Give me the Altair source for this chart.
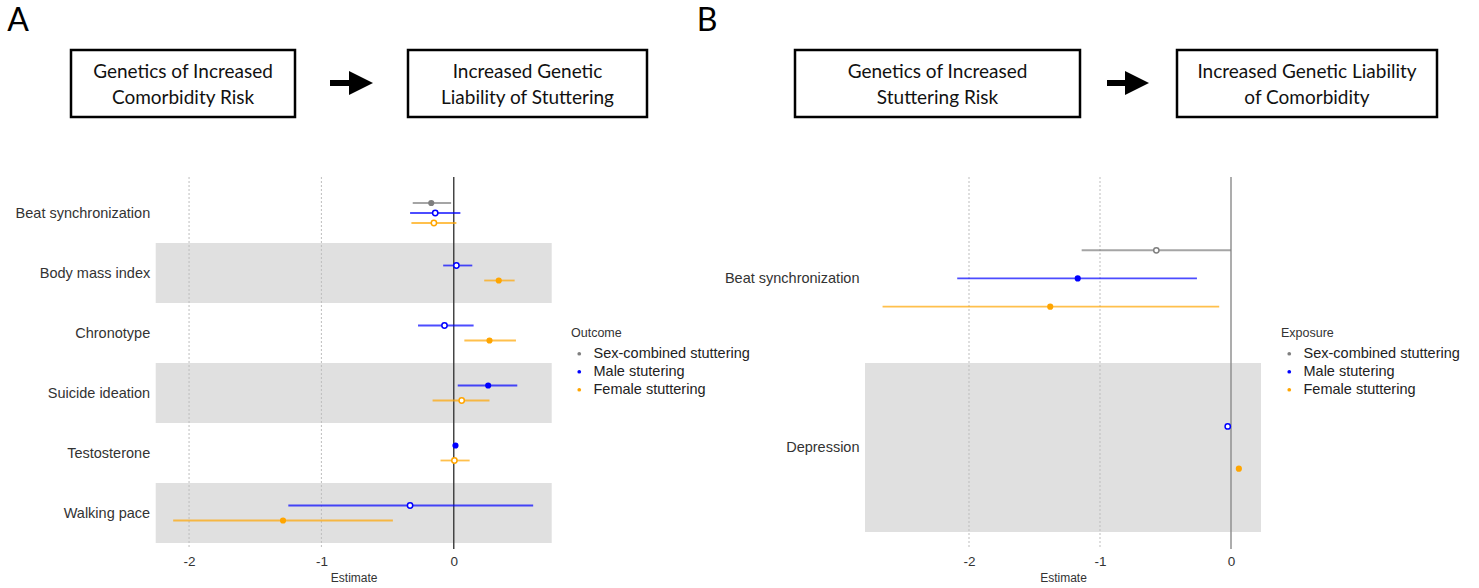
import altair as alt
import pandas as pd

# ---------------- data ----------------
GROUPS = ["Sex-combined stuttering", "Male stutering", "Female stuttering"]
COLORS = ["#7f7f7f", "#0000ff", "#ffa500"]

# Panel A (comorbidity -> stuttering)
a_cats = ["Beat synchronization", "Body mass index", "Chronotype",
          "Suicide ideation", "Testosterone", "Walking pace"]
a_bands = ["Body mass index", "Suicide ideation", "Walking pace"]
a_trait = ["Beat synchronization", "Beat synchronization", "Beat synchronization",
           "Body mass index", "Body mass index",
           "Chronotype", "Chronotype",
           "Suicide ideation", "Suicide ideation",
           "Testosterone", "Testosterone",
           "Walking pace", "Walking pace"]
a_group = ["Sex-combined stuttering", "Male stutering", "Female stuttering",
           "Male stutering", "Female stuttering",
           "Male stutering", "Female stuttering",
           "Male stutering", "Female stuttering",
           "Male stutering", "Female stuttering",
           "Male stutering", "Female stuttering"]
a_est = [-0.17, -0.14, -0.15, 0.02, 0.34, -0.07, 0.27, 0.26, 0.06, 0.013, 0.005, -0.33, -1.29]
a_lo = [-0.31, -0.33, -0.32, -0.08, 0.23, -0.27, 0.08, 0.03, -0.16, 0.006, -0.10, -1.25, -2.12]
a_hi = [-0.02, 0.05, 0.02, 0.14, 0.46, 0.15, 0.47, 0.48, 0.27, 0.020, 0.12, 0.60, -0.46]
a_filled = [True, False, False, False, True, False, True, True, False, True, False, False, True]

# Panel B (stuttering -> comorbidity)
b_cats = ["Beat synchronization", "Depression"]
b_bands = ["Depression"]
b_trait = ["Beat synchronization", "Beat synchronization", "Beat synchronization",
           "Depression", "Depression"]
b_group = ["Sex-combined stuttering", "Male stutering", "Female stuttering",
           "Male stutering", "Female stuttering"]
b_est = [-0.57, -1.17, -1.38, -0.025, 0.06]
b_lo = [-1.14, -2.09, -2.66, -0.035, 0.05]
b_hi = [0.0, -0.26, -0.09, -0.015, 0.07]
b_filled = [False, True, True, False, True]

x_ticks = [-2, -1, 0]
x_grid = [-2, -1]
x_zero = [0]

LABEL_FONT = "Liberation Sans"
HEAD_FONT = "Lato"


def dodge(trait, group, est, lo, hi, filled, cats):
    df = pd.DataFrame({"trait": trait, "group": group, "est": est,
                       "lo": lo, "hi": hi, "filled": filled})
    df["rank"] = df["trait"].map({c: i + 1 for i, c in enumerate(cats)})
    df["gorder"] = df["group"].map({g: i for i, g in enumerate(GROUPS)})
    df = df.sort_values(["rank", "gorder"]).reset_index(drop=True)
    n = df.groupby("trait")["group"].transform("count")
    i = df.groupby("trait").cumcount()
    df["pos"] = df["rank"] + (i - (n - 1) / 2) * 0.5 / n
    return df


def panel(df, cats, bands, xdom, xrng, ydom, yrng, zero_color, leg_title, leg_x, leg_y):
    xs = alt.Scale(domain=xdom, range=xrng, nice=False, zero=False)
    ys = alt.Scale(domain=ydom, range=yrng, nice=False, zero=False)
    cs = alt.Scale(domain=GROUPS, range=COLORS)

    bdf = pd.DataFrame({"trait": bands})
    bdf["rank"] = bdf["trait"].map({c: i + 1 for i, c in enumerate(cats)})
    bdf["lo"] = xdom[0]
    bdf["hi"] = xdom[1]
    band = alt.Chart(bdf).transform_calculate(
        y0="datum.rank - 0.5", y1="datum.rank + 0.5"
    ).mark_rect(color="#e0e0e0").encode(
        x=alt.X("lo:Q", scale=xs, axis=None),
        x2="hi:Q",
        y=alt.Y("y0:Q", scale=ys, axis=None),
        y2="y1:Q",
    )

    gdf = pd.DataFrame({"v": x_grid})
    gdf["y0"] = ydom[0]
    gdf["y1"] = ydom[1]
    grid = alt.Chart(gdf).mark_rule(
        color="#bdbdbd", strokeDash=[2, 2], strokeWidth=1
    ).encode(
        x=alt.X("v:Q", scale=xs, axis=None),
        y=alt.Y("y0:Q", scale=ys, axis=None),
        y2="y1:Q",
    )

    zdf = pd.DataFrame({"v": x_zero})
    zdf["y0"] = ydom[0]
    zdf["y1"] = ydom[1]
    zero = alt.Chart(zdf).mark_rule(color=zero_color, strokeWidth=1.4).encode(
        x=alt.X("v:Q", scale=xs, axis=None),
        y=alt.Y("y0:Q", scale=ys, axis=None),
        y2="y1:Q",
    )

    label_js = "[" + ",".join("'" + c + "'" for c in cats) + "][datum.value - 1]"
    ci = alt.Chart(df).mark_rule(strokeWidth=1.8, opacity=0.7).encode(
        x=alt.X("lo:Q", scale=xs, axis=alt.Axis(
            orient="bottom", offset=-(588 - yrng[1]), values=x_ticks,
            labelExpr="'' + datum.value", title="Estimate", grid=False,
            domain=False, ticks=False, labelPadding=5,
            labelFont=LABEL_FONT, labelFontSize=13.5, labelColor="#333333",
            titleFont=LABEL_FONT, titleFontSize=12, titleFontWeight="normal",
            titleColor="#333333", titlePadding=5, labelFlush=False,
            labelOverlap=False)),
        x2="hi:Q",
        y=alt.Y("pos:Q", scale=ys, axis=alt.Axis(
            orient="left", offset=-xrng[0], values=list(range(1, len(cats) + 1)),
            labelExpr=label_js, title=None, grid=False, domain=False,
            ticks=False, labelPadding=6, labelFont=LABEL_FONT,
            labelFontSize=14.5, labelColor="#333333", labelFlush=False,
            labelOverlap=False)),
        color=alt.Color("group:N", scale=cs, legend=None),
    )

    open_pts = alt.Chart(df).transform_filter("!datum.filled").mark_point(
        shape="circle", filled=False, fill="white", strokeWidth=1.5, size=28, opacity=1
    ).encode(
        x=alt.X("est:Q", scale=xs, axis=None),
        y=alt.Y("pos:Q", scale=ys, axis=None),
        color=alt.Color("group:N", scale=cs, legend=None),
    )

    filled_pts = alt.Chart(df).transform_filter("datum.filled").mark_circle(
        size=38, opacity=1
    ).encode(
        x=alt.X("est:Q", scale=xs, axis=None),
        y=alt.Y("pos:Q", scale=ys, axis=None),
        color=alt.Color("group:N", scale=cs, legend=alt.Legend(
            title=leg_title, orient="none", legendX=leg_x, legendY=leg_y,
            titleFont=LABEL_FONT, titleFontSize=12.5, titleFontWeight="normal",
            titleColor="#333333", labelFont=LABEL_FONT, labelFontSize=14.5,
            labelColor="#222222", symbolType="circle", symbolSize=14,
            symbolOffset=1, labelOffset=7, rowPadding=3, titlePadding=7,
            padding=0)),
    )
    return [band, grid, zero, ci, open_pts, filled_pts]


dfA = dodge(a_trait, a_group, a_est, a_lo, a_hi, a_filled, a_cats)
dfB = dodge(b_trait, b_group, b_est, b_lo, b_hi, b_filled, b_cats)

layersA = panel(dfA, a_cats, a_bands, [-2.252, 0.740], [155.7, 551.7],
                [0.4, 6.6], [177, 549], "#3a3a3a", "Outcome", 571, 327)
layersB = panel(dfB, b_cats, b_bands, [-2.794, 0.229], [865, 1261],
                [0.4, 2.6], [177, 549], "#8a8a8a", "Exposure", 1281, 327)

# ---------------- header decorations ----------------
ONE = alt.Data(values=[{}])


def box(x0, x1):
    return alt.Chart(ONE).mark_rect(fill="white", stroke="black", strokeWidth=2.5).encode(
        x=alt.value(x0), x2=alt.value(x1), y=alt.value(50), y2=alt.value(117))


def box_text(lines, xc):
    return alt.Chart(ONE).mark_text(
        text=lines, font=HEAD_FONT, fontSize=19, lineHeight=26, align="center",
        baseline="middle", color="#111111"
    ).encode(x=alt.value(xc), y=alt.value(72))


def arrow(x0, x1, xh):
    shaft = alt.Chart(ONE).mark_rule(color="black", strokeWidth=6).encode(
        x=alt.value(x0), x2=alt.value(x1), y=alt.value(83))
    head = alt.Chart(ONE).mark_point(
        shape="M -1 -1 L 1 0 L -1 1 Z", filled=True, color="black", size=576, opacity=1
    ).encode(x=alt.value(xh), y=alt.value(83))
    return [shaft, head]


def letter(t, xc):
    return alt.Chart(ONE).mark_text(
        text=t, font=HEAD_FONT, fontSize=32, align="center", baseline="middle", color="black"
    ).encode(x=alt.value(xc), y=alt.value(21))


header = [
    letter("A", 18), letter("B", 707),
    box(71, 295), box_text(["Genetics of Increased", "Comorbidity Risk"], 183),
    box(408, 647), box_text(["Increased Genetic", "Liability of Stuttering"], 527.5),
    box(795, 1080), box_text(["Genetics of Increased", "Stuttering Risk"], 937.5),
    box(1177, 1437), box_text(["Increased Genetic Liability", "of Comorbidity"], 1307),
] + arrow(330, 352, 361) + arrow(1107, 1128, 1137)

chart = alt.layer(*layersA, *layersB, *header).resolve_scale(
    x="independent", y="independent", color="independent"
).properties(
    width=1479, height=588, padding=0,
    autosize=alt.AutoSizeParams(type="none"),
    background="white",
).configure_view(stroke=None)

chart.save("out.html", embed_options={"renderer": "svg", "actions": False})
